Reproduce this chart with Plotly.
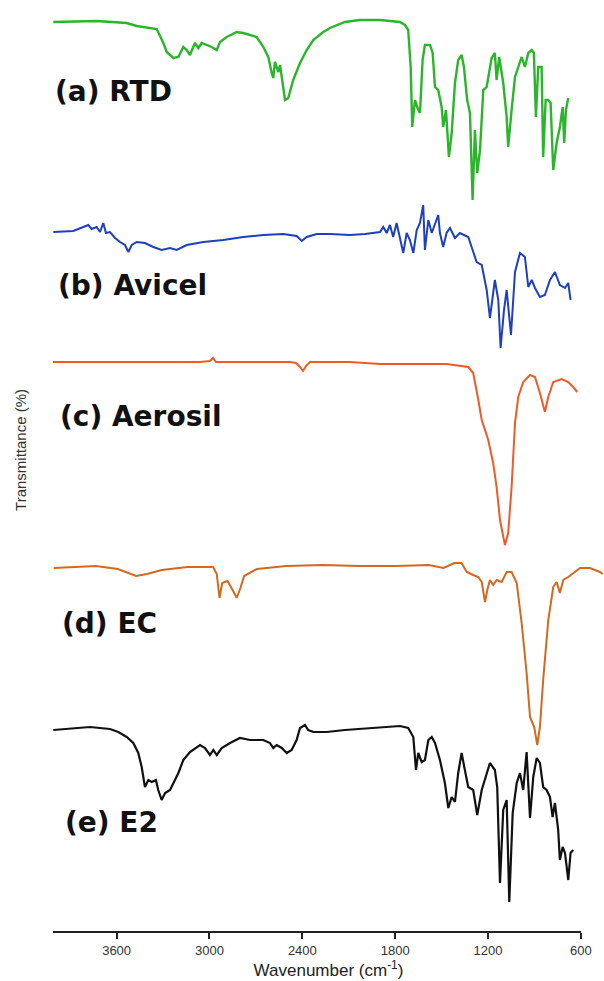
import plotly.graph_objects as go

# ---------------- data (wavenumber in cm^-1, stacked transmittance in arbitrary units) ----------------
rtd_wn = [4009, 3729, 3535, 3470, 3341, 3298, 3276, 3234, 3201, 3169, 3147, 3126, 3094, 3072, 3050, 3018,
          2986, 2953, 2932, 2889, 2824, 2782, 2738, 2695, 2652, 2620, 2598, 2588, 2577, 2555, 2544, 2530,
          2512, 2491, 2459, 2415, 2372, 2329, 2265, 2221, 2125, 2028, 1898, 1769, 1737, 1716, 1700, 1690,
          1672, 1658, 1640, 1623, 1608, 1575, 1558, 1543, 1522, 1500, 1490, 1472, 1453, 1435, 1414, 1393,
          1371, 1356, 1335, 1317, 1300, 1285, 1270, 1252, 1231, 1209, 1177, 1156, 1145, 1128, 1102, 1080,
          1070, 1048, 1026, 1005, 983, 962, 940, 918, 904, 891, 876, 854, 844, 828, 811, 796, 779, 757,
          736, 718, 708, 697, 682]
rtd_t = [910, 911, 909, 906, 903, 889, 880, 874, 875, 885, 882, 877, 889, 884, 889, 887,
         885, 882, 890, 895, 900, 899, 897, 895, 885, 875, 859, 854, 870, 860, 867, 852,
         832, 834, 852, 869, 882, 892, 900, 904, 910, 912, 912, 910, 907, 902, 865, 805,
         832, 825, 819, 872, 887, 887, 879, 845, 842, 825, 805, 822, 775, 799, 849, 872,
         877, 865, 832, 819, 732, 802, 759, 782, 842, 845, 874, 879, 852, 875, 849, 815,
         785, 822, 855, 865, 875, 865, 879, 882, 879, 815, 865, 865, 775, 832, 832, 829, 762, 789,
         805, 825, 789, 822, 834]

avicel_wn = [4009, 3880, 3783, 3761, 3729, 3707, 3686, 3669, 3643, 3610, 3578, 3546, 3524, 3502, 3470, 3417,
             3363, 3309, 3255, 3212, 3147, 3040, 2911, 2782, 2652, 2523, 2437, 2404, 2372, 2307, 2221, 2092,
             1995, 1898, 1877, 1855, 1834, 1813, 1791, 1769, 1748, 1726, 1705, 1683, 1661, 1640, 1619, 1608,
             1586, 1564, 1543, 1522, 1511, 1490, 1468, 1446, 1414, 1382, 1328, 1306, 1274, 1241, 1209, 1188,
             1156, 1134, 1119, 1097, 1080, 1052, 1026, 994, 962, 940, 918, 897, 865, 833, 800, 768, 736,
             703, 682, 667]
avicel_t = [700, 701, 707, 703, 705, 700, 709, 699, 700, 694, 690, 687, 680, 687, 690, 689,
            685, 682, 684, 682, 687, 690, 692, 695, 697, 698, 696, 691, 695, 698, 698, 697,
            698, 700, 705, 699, 707, 695, 709, 694, 679, 699, 692, 679, 702, 709, 727, 682,
            712, 699, 709, 717, 699, 685, 699, 704, 694, 699, 695, 685, 670, 667, 642, 614,
            652, 632, 584, 622, 642, 597, 660, 679, 675, 645, 652, 644, 635, 637, 652, 660, 647,
            644, 649, 632]

aerosil_wn = [4011, 3707, 3384, 3061, 2997, 2977, 2958, 2738, 2480, 2441, 2415, 2396, 2376, 2351, 2092,
              1898, 1683, 1468, 1328, 1296, 1263, 1241, 1199, 1167, 1145, 1123, 1091, 1070, 1048, 1026,
              1005, 973, 929, 897, 865, 833, 811, 779, 725, 682, 650, 624]
aerosil_t = [570, 570, 570, 570, 571, 574, 570, 570, 570, 569, 565, 561, 566, 570, 570,
             568, 568, 568, 565, 559, 532, 512, 492, 469, 445, 412, 387, 399, 445, 509,
             535, 550, 557, 555, 539, 520, 535, 550, 553, 550, 545, 540]

ec_wn = [4006, 3734, 3592, 3474, 3403, 3308, 3143, 2977, 2953, 2935, 2918, 2883, 2847, 2824, 2800, 2776,
         2694, 2504, 2268, 2032, 1795, 1583, 1488, 1417, 1371, 1338, 1296, 1263, 1241, 1220, 1205, 1188,
         1167, 1145, 1112, 1080, 1048, 1015, 983, 951, 929, 902, 882, 865, 844, 811, 779, 757, 736, 714,
         682, 650, 606, 542, 477, 458]
ec_t = [364, 366, 363, 356, 358, 362, 365, 365, 358, 334, 349, 351, 341, 334, 344, 356,
        363, 366, 367, 366, 366, 367, 364, 369, 369, 360, 357, 355, 350, 330, 342, 352,
        347, 352, 350, 360, 360, 349, 309, 259, 215, 205, 187, 205, 252, 312, 345, 350, 339, 352,
        355, 359, 364, 364, 360, 358]

e2_wn = [4009, 3922, 3772, 3643, 3589, 3535, 3492, 3460, 3438, 3417, 3395, 3373, 3346, 3331, 3309, 3287,
         3255, 3223, 3201, 3169, 3126, 3061, 3029, 2997, 2975, 2953, 2921, 2867, 2803, 2738, 2652, 2609,
         2588, 2566, 2533, 2501, 2469, 2437, 2415, 2383, 2362, 2329, 2243, 2125, 1963, 1898, 1769, 1716,
         1683, 1666, 1651, 1629, 1608, 1586, 1564, 1543, 1511, 1479, 1457, 1435, 1414, 1393, 1371, 1350,
         1328, 1296, 1270, 1241, 1209, 1188, 1156, 1141, 1123, 1102, 1080, 1063, 1041, 1015, 994, 973,
         951, 929, 908, 886, 865, 844, 822, 800, 783, 768, 747, 736, 718, 703, 682, 667, 650]
e2_t = [202, 203, 205, 203, 200, 195, 189, 179, 165, 145, 152, 150, 152, 142, 132, 139,
        142, 152, 159, 172, 180, 187, 184, 177, 182, 177, 184, 189, 194, 192, 192, 189,
        184, 187, 184, 179, 182, 192, 204, 207, 202, 200, 200, 202, 204, 205, 206, 204,
        195, 162, 179, 170, 172, 192, 195, 189, 172, 149, 124, 135, 130, 159, 179, 162,
        145, 142, 117, 142, 160, 169, 162, 145, 49, 122, 132, 30, 119, 149, 159, 142,
        180, 114, 155, 174, 169, 145, 142, 135, 115, 129, 102, 72, 85, 79, 52, 79, 82]

labels = ["(a) RTD", "(b) Avicel", "(c) Aerosil", "(d) EC", "(e) E2"]
label_wn = [4011, 3991, 3979, 3966, 3947]
label_t = [841, 647, 516, 309, 110]

x_ticks = [3600, 3000, 2400, 1800, 1200, 600]

series = [
    (rtd_wn, rtd_t, "#2bb52b", 2.4),
    (avicel_wn, avicel_t, "#1e3fbe", 2.0),
    (aerosil_wn, aerosil_t, "#ef5a29", 2.0),
    (ec_wn, ec_t, "#d2691f", 2.0),
    (e2_wn, e2_t, "#111111", 2.2),
]

fig = go.Figure()
for wn, t, col, w in series:
    fig.add_trace(go.Scatter(x=wn, y=t, mode="lines",
                             line=dict(color=col, width=w), showlegend=False, hoverinfo="skip"))

for txt, xv, yv in zip(labels, label_wn, label_t):
    fig.add_annotation(x=xv, y=yv, xref="x", yref="y", text="<b>" + txt + "</b>",
                       showarrow=False, xanchor="left", yanchor="middle",
                       font=dict(family="DejaVu Sans", size=28, color="#111111"))

# y-axis title
fig.add_annotation(x=-0.058, y=0.524, xref="paper", yref="paper", text="Transmittance (%)",
                   textangle=-90, showarrow=False, xanchor="center", yanchor="middle",
                   font=dict(family="Liberation Sans", size=15, color="#333333"))

# x-axis baseline (ends at 600 cm^-1 like the original)
fig.add_shape(type="line", xref="x", yref="paper", x0=4011, x1=x_ticks[-1], y0=0, y1=0,
              line=dict(color="#222222", width=2))

fig.update_layout(
    width=604, height=981,
    margin=dict(l=53, r=0, t=12, b=49),
    paper_bgcolor="white", plot_bgcolor="white",
    xaxis=dict(range=[4011, 451], tickvals=x_ticks, ticktext=[str(v) for v in x_ticks],
               ticks="outside", ticklen=6, tickwidth=2, tickcolor="#222222",
               showline=False, showgrid=False, zeroline=False,
               tickfont=dict(family="Liberation Sans", size=13, color="#333333"),
               title=dict(text="Wavenumber (cm<sup>-1</sup>)", standoff=6,
                          font=dict(family="Liberation Sans", size=17, color="#222222"))),
    yaxis=dict(range=[0, 920], visible=False, showgrid=False, zeroline=False),
)

fig.write_html("out.html")
